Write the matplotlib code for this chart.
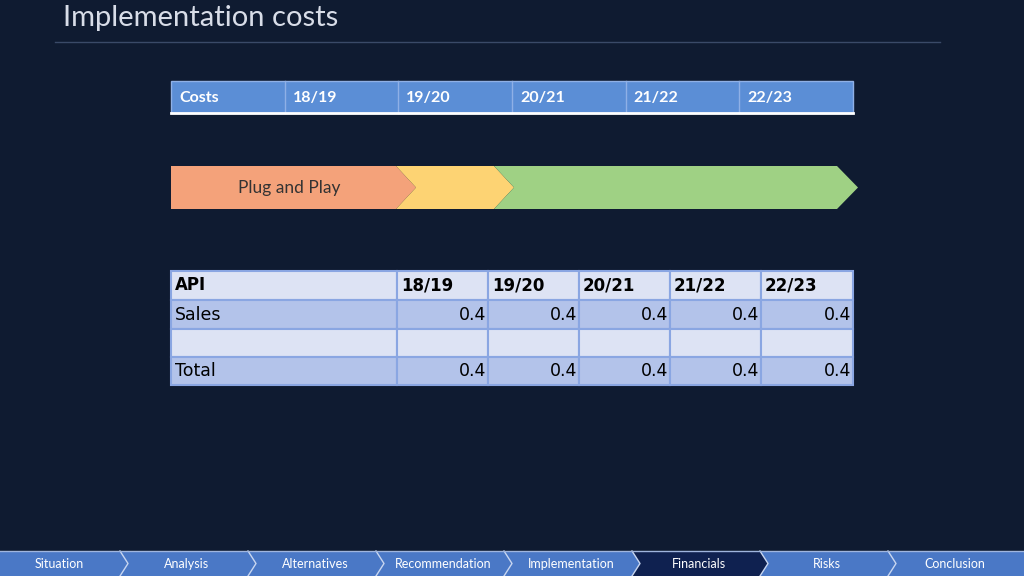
import matplotlib.pyplot as plt
from matplotlib.patches import Rectangle, Polygon

years = ['18/19', '19/20', '20/21', '21/22', '22/23']
sales = [0.4, 0.4, 0.4, 0.4, 0.4]
total = [0.4, 0.4, 0.4, 0.4, 0.4]
nav_items = ['Situation', 'Analysis', 'Alternatives', 'Recommendation',
             'Implementation', 'Financials', 'Risks', 'Conclusion']
active_item = 'Financials'

fig = plt.figure(figsize=(10.24, 5.76), dpi=100)
fig.patch.set_facecolor('#0f1b31')
ax = fig.add_axes([0, 0, 1, 1])
ax.set_xlim(0, 1024)
ax.set_ylim(576, 0)
ax.axis('off')

# title
ax.text(63, 18, 'Implementation costs', color='#d8dde8', fontsize=21,
        va='center', ha='left', family='Lato')
ax.plot([55, 940], [42, 42], color='#3a4a68', lw=1)

# top header table
ax.add_patch(Rectangle((171, 81), 682, 32, facecolor='#5b8ed6', edgecolor='#8fb0e6', lw=1))
cw = 682 / 6
for i, lab in enumerate(['Costs'] + years):
    x0 = 171 + i * cw
    if i > 0:
        ax.plot([x0, x0], [81, 113], color='#8fb0e6', lw=1)
    ax.text(x0 + 8, 98, lab, color='white', fontsize=11.5, fontweight='bold',
            va='center', family='Lato')
ax.plot([171, 853], [113, 113], color='white', lw=2)

# arrows
ax.add_patch(Polygon([(171, 166), (396, 166), (416, 187.5), (396, 209), (171, 209)],
                     closed=True, facecolor='#f4a27a', edgecolor='none'))
ax.add_patch(Polygon([(396, 166), (494, 166), (514, 187.5), (494, 209), (396, 209), (416, 187.5)],
                     closed=True, facecolor='#fdd373', edgecolor='none'))
ax.add_patch(Polygon([(494, 166), (837, 166), (858, 187.5), (837, 209), (494, 209), (514, 187.5)],
                     closed=True, facecolor='#9fd184', edgecolor='none'))
ax.text(289, 188, 'Plug and Play', color='#333333', fontsize=12.5,
        va='center', ha='center', family='Lato')

# lower table
col_x = [171, 397, 488, 579, 670, 761, 853]
row_y = [271, 300, 329, 357, 385]
row_fill = ['#dde3f4', '#b3c3ea', '#dde3f4', '#b3c3ea']
rows = [['API'] + years,
        ['Sales'] + [f'{v}' for v in sales],
        [''] * 6,
        ['Total'] + [f'{v}' for v in total]]
for r in range(4):
    for c in range(6):
        x0, x1 = col_x[c], col_x[c + 1]
        y0, y1 = row_y[r], row_y[r + 1]
        ax.add_patch(Rectangle((x0, y0), x1 - x0, y1 - y0, facecolor=row_fill[r],
                               edgecolor='#8aa6e2', lw=1.5))
        txt = rows[r][c]
        ym = (y0 + y1) / 2
        if r == 0:
            ax.text(x0 + 4, ym, txt, fontsize=12, fontweight='bold', color='black',
                    va='center', family='Liberation Sans Narrow')
        elif c == 0:
            ax.text(x0 + 4, ym, txt, fontsize=12.5, color='black',
                    va='center', family='Liberation Sans Narrow')
        else:
            ax.text(x1 - 2, ym, txt, fontsize=12.5, color='black',
                    va='center', ha='right', family='Liberation Sans Narrow')

# navigation bar
nw = 1024 / len(nav_items)
ax.add_patch(Rectangle((0, 551), 1024, 25, facecolor='#4a78c6', edgecolor='none'))
for i, item in enumerate(nav_items):
    x0 = i * nw
    if item == active_item:
        ax.add_patch(Polygon([(x0 - 8, 551), (x0 + nw - 8, 551), (x0 + nw, 563.5),
                              (x0 + nw - 8, 576), (x0 - 8, 576), (x0, 563.5)],
                             closed=True, facecolor='#0f2150', edgecolor='none'))
    if i > 0:
        ax.plot([x0 - 8, x0, x0 - 8], [551, 563.5, 576], color='#c8d6f0', lw=1)
    ax.text(x0 + nw / 2 - 5, 564, item, color='white', fontsize=9,
            va='center', ha='center', family='Lato')
ax.plot([0, 1024], [551, 551], color='#9fb5de', lw=1)

fig.savefig('out.png', dpi=100, facecolor=fig.get_facecolor())
